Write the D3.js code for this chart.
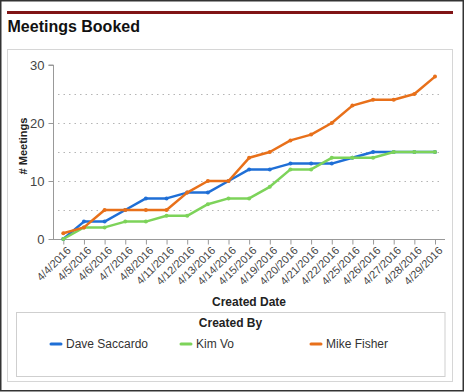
<!DOCTYPE html>
<html>
<head>
<meta charset="utf-8">
<script src="https://cdn.jsdelivr.net/npm/d3@7"></script>
<style>
  html, body { margin: 0; padding: 0; background: #fff; }
  svg { display: block; font-family: "Liberation Sans", Arial, sans-serif; }
</style>
</head>
<body>
<svg id="chart" width="464" height="392"></svg>
<script>
const dates = ["4/4/2016","4/5/2016","4/6/2016","4/7/2016","4/8/2016","4/11/2016","4/12/2016","4/13/2016","4/14/2016","4/15/2016","4/19/2016","4/20/2016","4/21/2016","4/22/2016","4/25/2016","4/26/2016","4/27/2016","4/28/2016","4/29/2016"];
const daveSaccardo = [0,3,3,5,7,7,8,8,10,12,12,13,13,13,14,15,15,15,15];
const kimVo        = [0,2,2,3,3,4,4,6,7,7,9,12,12,14,14,14,15,15,15];
const mikeFisher   = [1,2,5,5,5,5,8,10,10,14,15,17,18,20,23,24,24,25,28];
const seriesNames  = ["Dave Saccardo","Kim Vo","Mike Fisher"];
const yTicks = [0,10,20,30];
const yGrid = [5,10,15,20,25];

const series = [
  {name: seriesNames[0], values: daveSaccardo, color: "#1f6fd6"},
  {name: seriesNames[1], values: kimVo, color: "#7dd35a"},
  {name: seriesNames[2], values: mikeFisher, color: "#e8701a"}
];

const svg = d3.select("#chart");

// outer frame
svg.append("rect").attr("x", 0.75).attr("y", 0.75).attr("width", 462.5).attr("height", 390)
  .attr("fill", "#fff").attr("stroke", "#333").attr("stroke-width", 1.5);

// red bar
svg.append("rect").attr("x", 7).attr("y", 11).attr("width", 446).attr("height", 3).attr("fill", "#801416");

// title
svg.append("text").attr("x", 7.5).attr("y", 32).attr("font-size", 16).attr("font-weight", "bold")
  .attr("fill", "#111").text("Meetings Booked");

// panel
svg.append("rect").attr("x", 7.5).attr("y", 49.5).attr("width", 445).attr("height", 332)
  .attr("fill", "#fff").attr("stroke", "#d6d6d6").attr("stroke-width", 1);

const x = d3.scalePoint().domain(dates).range([63.3, 435]);
const y = d3.scaleLinear().domain([0, 30]).range([239, 65]);

// grid
svg.append("g").selectAll("line").data(yGrid).join("line")
  .attr("x1", 58).attr("x2", 443)
  .attr("y1", d => Math.round(y(d)) + 0.5).attr("y2", d => Math.round(y(d)) + 0.5)
  .attr("stroke", "#b5b5b5").attr("stroke-width", 1).attr("stroke-dasharray", "1.5,4");

// y axis
const yAxis = svg.append("g").attr("transform", "translate(53.5,0)")
  .call(d3.axisLeft(y).tickValues(yTicks).tickSize(5).tickPadding(4).tickFormat(d3.format("d")));
yAxis.select(".domain").attr("stroke", "#999").attr("d", `M-5,${y(30)}H0V${y(0)}`);
yAxis.selectAll(".tick line").attr("stroke", "#999");
yAxis.selectAll(".tick text").attr("font-size", 13).attr("fill", "#444").attr("font-family", "Liberation Sans, Arial, sans-serif");

// x axis
const xAxis = svg.append("g").attr("transform", "translate(0,239.5)")
  .call(d3.axisBottom(x).tickSize(5).tickSizeOuter(0));
xAxis.select(".domain").attr("stroke", "#999").attr("d", `M53,0H445`);
xAxis.selectAll(".tick line").attr("stroke", "#999");
xAxis.selectAll(".tick text")
  .attr("font-size", 11).attr("fill", "#444").attr("font-family", "Liberation Sans, Arial, sans-serif")
  .attr("text-anchor", "end").attr("x", 0).attr("y", 0).attr("dy", "0.35em")
  .attr("transform", "translate(5,9) rotate(-45)");

// axis titles
svg.append("text").attr("transform", `translate(27,${(y(0)+y(30))/2 - 6}) rotate(-90)`)
  .attr("text-anchor", "middle").attr("font-size", 11).attr("font-weight", "bold").attr("fill", "#222")
  .text("# Meetings");
svg.append("text").attr("x", 249).attr("y", 306).attr("text-anchor", "middle")
  .attr("font-size", 12).attr("font-weight", "bold").attr("fill", "#222").text("Created Date");

// lines
const line = d3.line().x((d, i) => x(dates[i])).y(d => y(d));
const gSeries = svg.append("g").selectAll("g").data(series).join("g");
gSeries.append("path").attr("d", d => line(d.values)).attr("fill", "none")
  .attr("stroke", d => d.color).attr("stroke-width", 2.5).attr("stroke-linejoin", "round");
gSeries.each(function(s) {
  d3.select(this).selectAll("circle").data(s.values).join("circle")
    .attr("cx", (d, i) => x(dates[i])).attr("cy", d => y(d)).attr("r", 2)
    .attr("fill", s.color);
});

// legend
svg.append("rect").attr("x", 16.5).attr("y", 312.5).attr("width", 428.5).attr("height", 64)
  .attr("fill", "#fff").attr("stroke", "#cfcfcf").attr("stroke-width", 1);
svg.append("text").attr("x", 230.5).attr("y", 327).attr("text-anchor", "middle")
  .attr("font-size", 12).attr("font-weight", "bold").attr("fill", "#222").text("Created By");
const legX = [50, 180, 310];
const leg = svg.append("g").selectAll("g").data(series).join("g")
  .attr("transform", (d, i) => `translate(${legX[i]},344)`);
leg.append("line").attr("x1", 1).attr("x2", 11).attr("y1", 0).attr("y2", 0)
  .attr("stroke", d => d.color).attr("stroke-width", 3).attr("stroke-linecap", "round");
leg.append("text").attr("x", 16).attr("y", 0).attr("dy", "0.35em").attr("font-size", 12)
  .attr("fill", "#333").text(d => d.name);
</script>
</body>
</html>
